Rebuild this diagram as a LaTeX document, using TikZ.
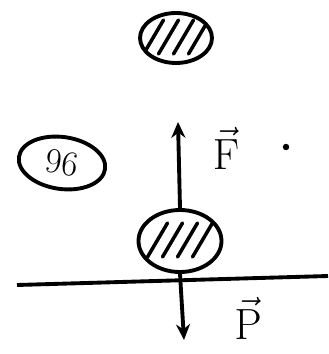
\documentclass[tikz,border=0pt]{standalone}
\usetikzlibrary{shapes.geometric,arrows.meta,positioning}

\begin{document}
\begin{tikzpicture}[x=0.02cm, y=-0.02cm,
  hatched/.style={ellipse, draw, line width=2.2pt, inner sep=0pt, path picture={
    \foreach \d in {-0.45,-0.15,0.15,0.45}
      \draw[line width=2pt, line cap=round] ([shift={(\d cm-0.2cm,-0.32cm)}]path picture bounding box.center) -- ++(0.4cm,0.68cm);}},
  force/.style={-{Stealth[length=9pt, width=8pt]}, line width=2.2pt},
  lbl/.style={font=\fontsize{32}{32}\selectfont}
]
  \useasboundingbox (0,0) rectangle (328,354);
  % balls
  \node[hatched, minimum width=1.44cm, minimum height=1cm] (top) at (176,38) {};
  \node[hatched, minimum width=1.66cm, minimum height=1.24cm] (ball) at (180,241) {};
  % note
  \node[ellipse, draw, line width=2.2pt, rotate=-8, minimum width=1.74cm, minimum height=1.04cm, font=\fontsize{20}{20}\selectfont] (num) at (62,163) {96};
  % ground
  \coordinate (g1) at (17,285);
  \coordinate (g2) at (328,276);
  \draw[line width=2.2pt] (g1) -- (g2);
  % forces
  \coordinate (ftip) at (178,122);
  \coordinate (ptip) at (184,340);
  \draw[force] (ball.north) -- (ftip);
  \draw[force] (ball.south) -- (ptip);
  \node[lbl] (flab) at (226,148) {$\vec{\mathrm{F}}$};
  \node[lbl] (plab) at (248,318) {$\vec{\mathrm{P}}$};
  \node[circle, fill, inner sep=1.3pt] (pt) at (286,147) {};
\end{tikzpicture}
\end{document}
